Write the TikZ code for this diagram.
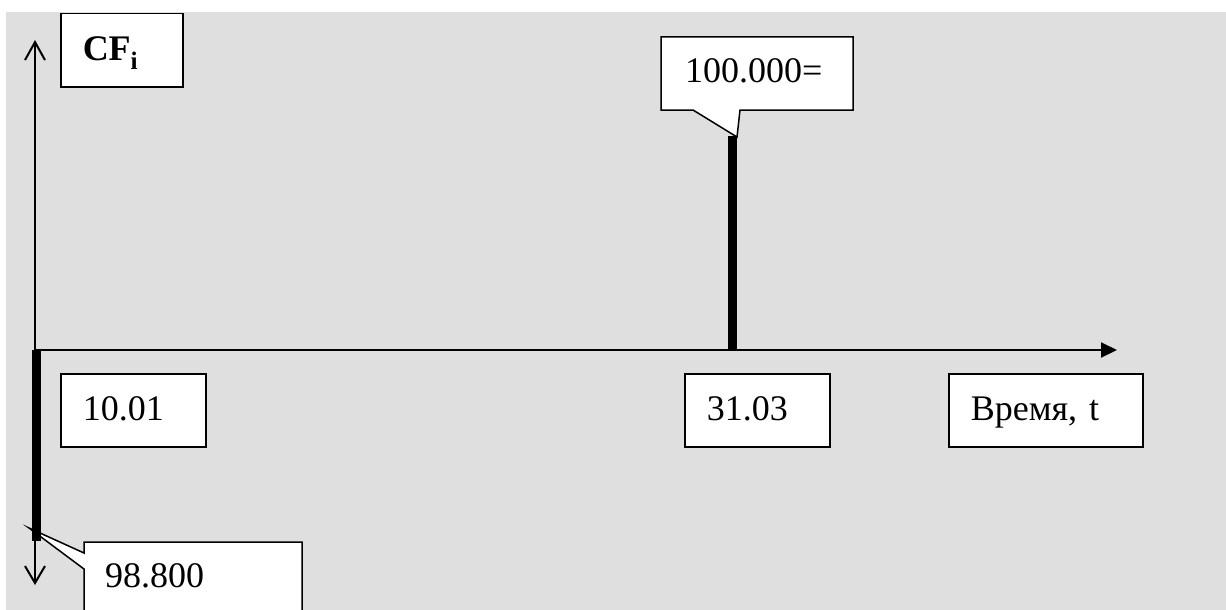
\documentclass[tikz,border=0pt]{standalone}
\usepackage{fontspec}
\setmainfont{Liberation Serif}
\usetikzlibrary{arrows.meta}

\tikzset{
  lbl/.style={font=\fontsize{36}{40}\selectfont, inner sep=0pt},
  box/.style={lbl, draw, fill=white, line width=1.5pt, inner xsep=22pt, inner ysep=0pt,
    text height=29pt, text depth=8pt, minimum height=73pt, anchor=north west, align=left},
  callout/.style={draw, fill=white, line width=1.5pt, line join=miter},
  axis/.style={line width=2pt},
  flow/.style={line width=8.5pt},
}

\begin{document}
\begin{tikzpicture}[x=1pt, y=-1pt]
  \useasboundingbox (0,0) rectangle (1226,610);
  % grey page background
  \fill[fill={rgb,255:red,223;green,223;blue,223}] (6,12) rectangle (1226,610);

  % reference points of the axes and cash flows
  \coordinate (O) at (35,350);
  \coordinate (ytop) at (35,40);
  \coordinate (ybot) at (35,585);
  \coordinate (xend) at (1117,350);
  \coordinate (out0) at (36.5,350);
  \coordinate (out1) at (36.5,541);
  \coordinate (in0) at (732.5,350);
  \coordinate (in1) at (732.5,136);

  % callout of the outflow
  \path[callout] (84,542) -- (302,542) -- (302,625) -- (84,625) -- (84,569)
     -- (29,528) -- (84,553) -- cycle;
  \node[lbl, anchor=base west] (cfout) at (105,587) {98.800};

  % callout of the inflow
  \path[callout] (661,37) -- (853,37) -- (853,110) -- (740,110) -- (737,137)
     -- (693,110) -- (661,110) -- cycle;
  \node[lbl, anchor=base west] (cfin) at (685,82) {100.000=};

  % axes
  \draw[axis, -{Straight Barb[length=18pt, width=20pt]}] (O) -- (ytop);
  \draw[axis, -{Straight Barb[length=17pt, width=20pt]}] (O) -- (ybot);
  \draw[axis, -{Triangle[length=16pt, width=15pt]}] (O) -- (xend);

  % cash flows
  \draw[flow] (out0) -- (out1);
  \draw[flow] (in0) -- (in1);

  % labels
  \node[box, text width=78pt] (cf) at (60,13) {\textbf{CF\textsubscript{i}}};
  \node[box, text width=101pt] (d1) at (60,373) {10.01};
  \node[box, text width=101pt] (d2) at (684,373) {31.03};
  \node[box, text width=150pt] (tt) at (948,373) {Время, t};
\end{tikzpicture}
\end{document}
